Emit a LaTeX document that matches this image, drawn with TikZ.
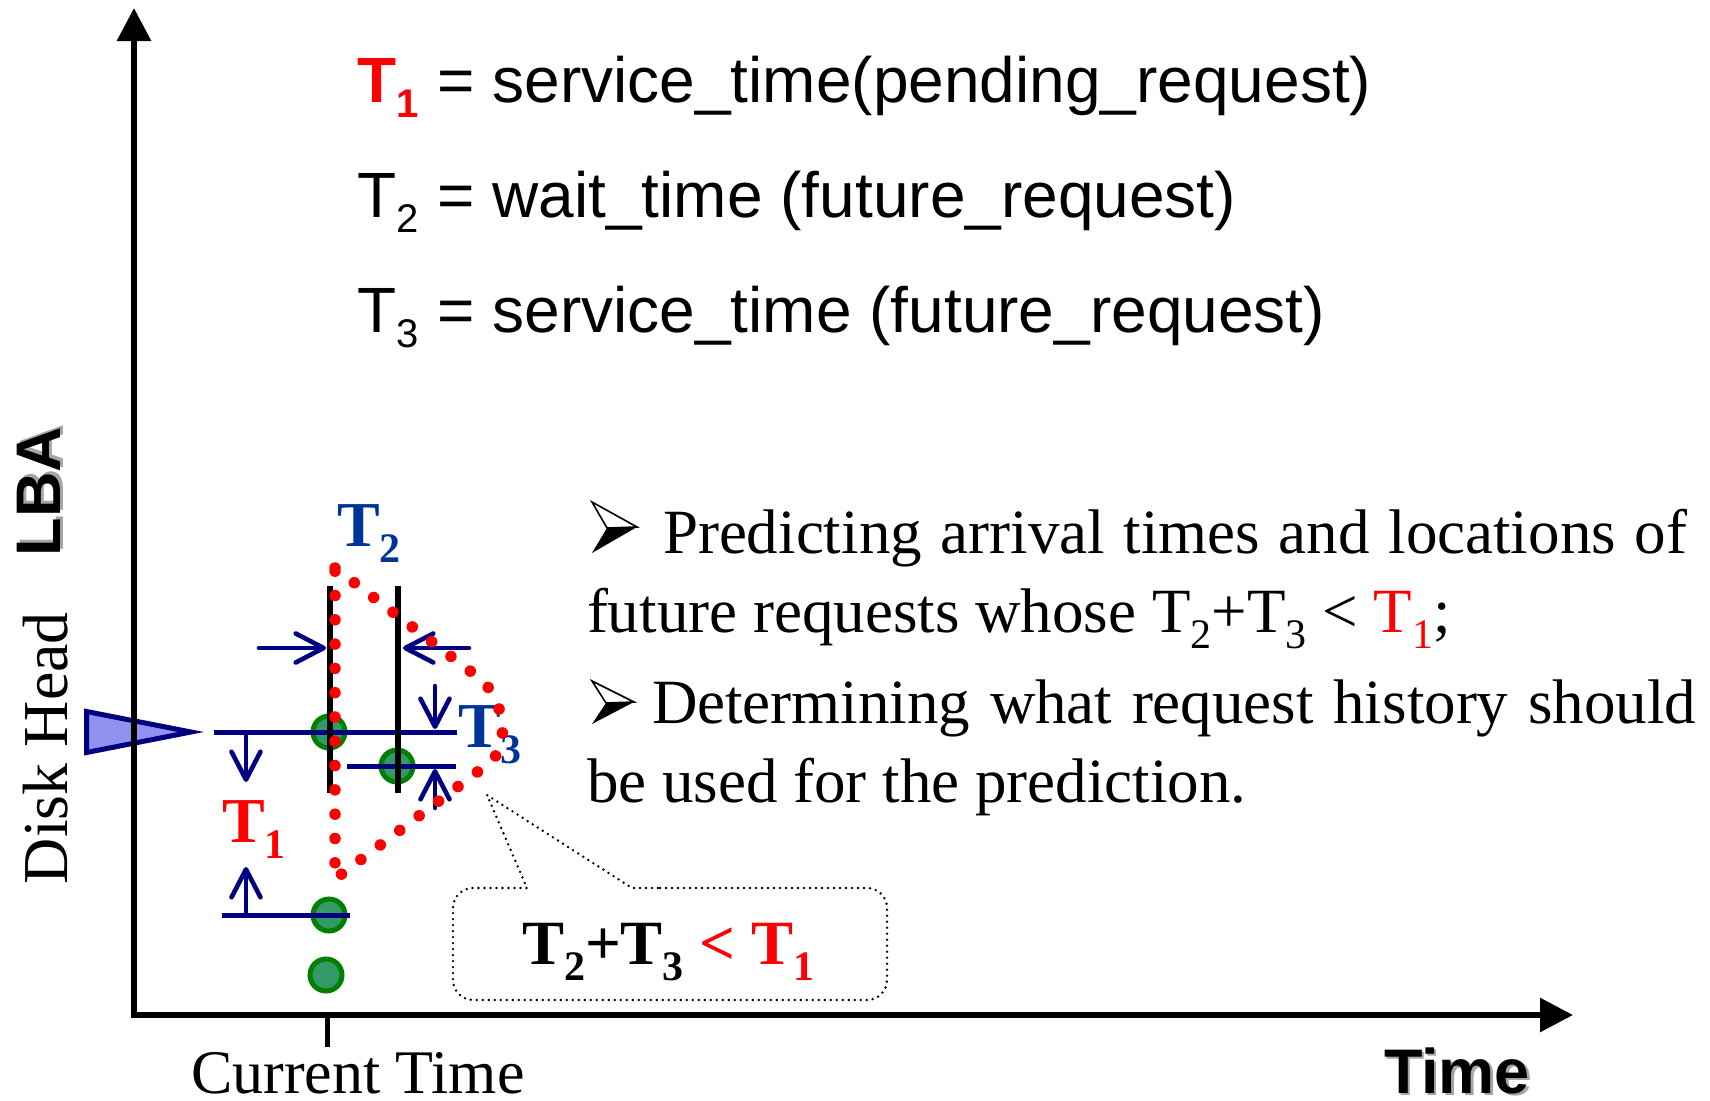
\documentclass[tikz,border=0pt]{standalone}
\usepackage{fontspec}
\setmainfont{Liberation Serif}
\newfontfamily\arialfont{Liberation Sans}
\usetikzlibrary{arrows.meta}

\definecolor{navyline}{RGB}{0,0,128}
\definecolor{labelblue}{RGB}{0,51,153}
\definecolor{reqfill}{RGB}{51,153,102}
\definecolor{reqedge}{RGB}{0,128,0}
\definecolor{headfill}{RGB}{145,145,240}
\definecolor{shadowgray}{RGB}{165,165,165}

% font size helper and lowered index helper: shift, size, text
\newcommand{\fsz}[1]{\fontsize{#1pt}{#1pt}\selectfont}
\newcommand{\lowidx}[3]{\raisebox{-#1pt}{\fsz{#2}#3}}

\begin{document}
\begin{tikzpicture}[x=1pt,y=-1pt,
  txt/.style={inner sep=0pt,outer sep=0pt,anchor=base west},
  axisline/.style={line width=6pt,-{Triangle[length=33pt,width=33pt]}},
  navy/.style={draw=navyline,line width=5pt},
  timebar/.style={draw=black,line width=5.5pt},
  dimarrow/.style={draw=navyline,line width=4.6pt,line cap=round,
    -{Straight Barb[length=28pt,width=29pt,line cap=round,line join=round]}},
  reqdot/.style={circle,fill=reqfill,draw=reqedge,line width=5pt,
    minimum size=32pt,inner sep=0pt},
  redtrace/.style={draw=red,line width=11.5pt,line cap=round,
    dash pattern=on 0pt off 24.3pt},
  balloon/.style={draw=black,line width=2.7pt,line cap=round,
    dash pattern=on 0pt off 6pt},
  symlabel/.style={txt,font=\bfseries\fsz{64}},
]
\useasboundingbox (0,0) rectangle (1710,1100);

% ---------- disk head marker ----------
\coordinate (hd1) at (86.5,711.5);
\coordinate (hd2) at (86.5,752.5);
\coordinate (hdtip) at (191,732);
\draw[fill=headfill,draw=navyline,line width=5pt,line join=miter] (hd1) -- (hdtip) -- (hd2) -- cycle;

% ---------- axes ----------
\coordinate (ycorner) at (134,1018);
\coordinate (ytip) at (134,8);
\coordinate (xcorner) at (131,1015);
\coordinate (xtip) at (1573,1015);
\draw[axisline] (ycorner) -- (ytip);
\draw[axisline] (xcorner) -- (xtip);
\coordinate (nowtop) at (327,1015);
\coordinate (nowbot) at (327,1047);
\draw[line width=5pt] (nowtop) -- (nowbot);

% axis labels
\node[txt,font=\fsz{62}] (nowlabel) at (191,1093) {Current Time};
\node[txt,font=\arialfont\bfseries\fsz{63},text=shadowgray] (timeshadow) at (1386.5,1095.5) {Time};
\node[txt,font=\arialfont\bfseries\fsz{63}] (timelabel) at (1384,1093) {Time};
\node[txt,rotate=90,font=\arialfont\bfseries\fsz{63},text=shadowgray] (lbashadow) at (63,553) {LBA};
\node[txt,rotate=90,font=\arialfont\bfseries\fsz{63}] (lbalabel) at (60,556) {LBA};
\node[txt,rotate=90,font=\fsz{64}] (disklabel) at (67,884) {Disk Head};

% ---------- requests ----------
\node[reqdot] (req1) at (329,732) {};
\node[reqdot] (req2) at (397,766) {};
\node[reqdot] (req3) at (329,915) {};
\node[reqdot] (req4) at (326,975) {};

% head position and request levels
\coordinate (headL) at (214,732);
\coordinate (headR) at (457,732);
\coordinate (midL) at (347,766);
\coordinate (midR) at (456,766);
\coordinate (lowL) at (222,915);
\coordinate (lowR) at (350,915);
\draw[navy] (headL) -- (headR);
\draw[navy] (midL) -- (midR);
\draw[navy] (lowL) -- (lowR);

% time bars
\coordinate (bar1top) at (330,586);
\coordinate (bar1bot) at (330,793);
\coordinate (bar2top) at (398,586);
\coordinate (bar2bot) at (398,793);
\draw[timebar] (bar1top) -- (bar1bot);
\draw[timebar] (bar2top) -- (bar2bot);

% dimension arrows
\coordinate (a1s) at (259,648); \coordinate (a1e) at (326,648);
\coordinate (a2s) at (469,648); \coordinate (a2e) at (403,648);
\coordinate (a3s) at (435,686); \coordinate (a3e) at (435,729);
\coordinate (a4s) at (435,808); \coordinate (a4e) at (435,769);
\coordinate (a5s) at (246,736); \coordinate (a5e) at (246,782);
\coordinate (a6s) at (246,912); \coordinate (a6e) at (246,867);
\draw[dimarrow] (a1s) -- (a1e);
\draw[dimarrow] (a2s) -- (a2e);
\draw[dimarrow] (a3s) -- (a3e);
\draw[dimarrow] (a4s) -- (a4e);
\draw[dimarrow] (a5s) -- (a5e);
\draw[dimarrow] (a6s) -- (a6e);

% interval labels
\node[symlabel,text=labelblue] (lblT2) at (337,546) {T\lowidx{16}{42}{2}};
\node[symlabel,text=labelblue] (lblT3) at (458,747) {T\lowidx{16}{42}{3}};
\node[symlabel,text=red] (lblT1) at (222,842) {T\lowidx{16}{42}{1}};

% dotted trace of the candidate window
\coordinate (trtop) at (335,568);
\coordinate (trA) at (478,677);
\coordinate (trB) at (488,764);
\coordinate (trbot) at (335,879);
\draw[redtrace] (trtop) -- (trA) .. controls (503,696) and (513,745) .. (trB) -- (trbot) -- cycle;

% ---------- callout ----------
\coordinate (balA) at (660,888);
\coordinate (balTR) at (887,888);
\coordinate (balBR) at (887,1000);
\coordinate (balBL) at (453,1000);
\coordinate (balTL) at (453,888);
\coordinate (balB) at (490,888);
\coordinate (balC) at (527,888);
\coordinate (baltip) at (487,795);
\coordinate (balD) at (632,888);
\draw[balloon] (balA) [rounded corners=20pt] -- (balTR) -- (balBR) -- (balBL) -- (balTL) -- (balB)
  [sharp corners] -- (balC) -- (baltip) -- (balD) -- cycle;
\node[txt,font=\bfseries\fsz{63}] (rule) at (522,964)
  {T\lowidx{16}{42}{2}+T\lowidx{16}{42}{3} \textcolor{red}{< T\lowidx{16}{42}{1}}};

% ---------- definitions ----------
\node[txt,font=\arialfont\bfseries\fsz{64},text=red] (t1sym) at (357.5,102) {T\lowidx{15}{40}{1}};
\node[txt,font=\arialfont\fsz{64}] (t1def) at (437.5,102) {= service\_time(pending\_request)};
\node[txt,font=\arialfont\fsz{64}] (t2sym) at (357.5,217) {T\lowidx{15}{40}{2}};
\node[txt,font=\arialfont\fsz{64}] (t2def) at (437.5,217) {= wait\_time (future\_request)};
\node[txt,font=\arialfont\fsz{64}] (t3sym) at (357.5,332) {T\lowidx{15}{40}{3}};
\node[txt,font=\arialfont\fsz{64}] (t3def) at (437.5,332) {= service\_time (future\_request)};

% ---------- bullet list ----------
\coordinate (b1A) at (592,502); \coordinate (b1T) at (637,527);
\coordinate (b1B) at (592,553); \coordinate (b1N) at (607,528);
\fill[black] (b1N) -- (b1T) -- (b1B) -- cycle;
\draw[fill=white,line width=1.6pt,line join=miter] (b1A) -- (b1T) -- (b1N) -- cycle;
\coordinate (b2A) at (592,681); \coordinate (b2T) at (634,702);
\coordinate (b2B) at (592,724); \coordinate (b2N) at (606,703);
\fill[black] (b2N) -- (b2T) -- (b2B) -- cycle;
\draw[fill=white,line width=1.6pt,line join=miter] (b2A) -- (b2T) -- (b2N) -- cycle;

\node[txt,font=\fsz{63}] (item1a) at (663,553)
  {\makebox[1024pt][s]{Predicting arrival times and locations of}};
\node[txt,font=\fsz{63}] (item1b) at (587,632)
  {future requests whose T\lowidx{16}{42}{2}+T\lowidx{16}{42}{3} < \textcolor{red}{T\lowidx{16}{42}{1}};};
\node[txt,font=\fsz{63}] (item2a) at (652,723)
  {\makebox[1044pt][s]{Determining what request history should}};
\node[txt,font=\fsz{63}] (item2b) at (587,802) {be used for the prediction.};
\end{tikzpicture}
\end{document}
